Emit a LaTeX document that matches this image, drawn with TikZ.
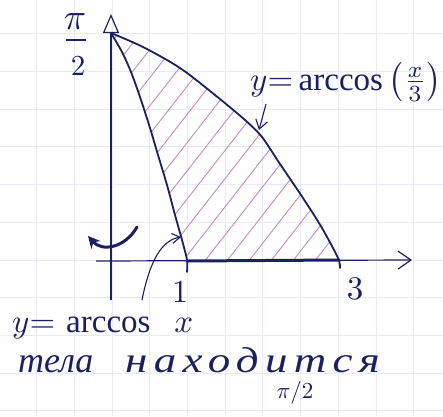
\documentclass[tikz,border=0pt]{standalone}
\usepackage{fontspec}
\setmainfont{Liberation Serif}
\usetikzlibrary{arrows.meta}
\definecolor{ink}{HTML}{1B2160}
\definecolor{hatchc}{HTML}{C98BC0}
\definecolor{gridc}{HTML}{E8EAF5}
\tikzset{
  gridline/.style={gridc, line width=1pt},
  inkline/.style={ink, line width=1.8pt, line cap=round, line join=round},
  axisline/.style={ink, line width=1.2pt},
  hatchline/.style={hatchc, line width=0.9pt},
  inktext/.style={ink, inner sep=0pt},
}
\begin{document}
\begin{tikzpicture}[x=1pt,y=-1pt]
\useasboundingbox (0,0) rectangle (443,416);
\fill[white] (0,0) rectangle (443,416);
% graph paper
\foreach \k in {0,...,11} \draw[gridline] ({-1+37.7*\k},0) -- ++(0,416);
\foreach \k in {0,...,11} \draw[gridline] (0,{-3.9+37.7*\k}) -- ++(443,0);
% hatching
\begin{scope}
\clip plot[smooth] coordinates {(111,33) (122,52) (131,72) (140,97) (150,128) (158,155) (167,185) (175,215) (182,240) (187,260)}
 -- (340,260) -- plot[smooth] coordinates {(338,258) (322,228) (303,198) (280,164) (262,137) (245,120) (215,95) (180,68) (143,47) (111,33)} -- cycle;
\foreach \i in {0,...,18} \draw[hatchline] ({-60+22*\i},262) -- ++(220,-282);
\end{scope}
% axes
\draw[axisline, -{Triangle[open, length=19pt, width=16pt]}] (111,300) -- (111,14);
\draw[axisline, -{Straight Barb[length=13pt, width=18pt]}] (96,261) -- (412,260);
\draw[ink, line width=3pt] (187,261) -- (340,260);
% curves
\draw[inkline] plot[smooth] coordinates {(111,33) (122,52) (131,72) (140,97) (150,128) (158,155) (167,185) (175,215) (182,240) (187,260) (187,272)};
\draw[inkline] plot[smooth] coordinates {(111,33) (143,47) (180,68) (215,95) (245,120) (262,137) (280,164) (303,198) (322,228) (338,258) (340,268)};
% labels
\node[inktext] (pinum) at (75,22) {\scalebox{3.7}{$\pi$}};
\draw[ink, line width=1.3pt] (66,40) -- (86,40);
\node[inktext] (piden) at (78,66) {\scalebox{2.9}{$2$}};
\node[inktext] (one) at (180,292) {\scalebox{3.2}{$1$}};
\node[inktext] (three) at (355,289) {\scalebox{3.3}{$3$}};
\node[inktext, anchor=base west] (labB) at (250,90) {\scalebox{3.3}{$y{=}\arccos\left(\frac{x}{3}\right)$}};
\node[inktext, anchor=base west] (labA) at (12,332) {\scalebox{3.3}{$y{=}\,\arccos\;\;x$}};
\node[inktext, anchor=base west, font=\itshape\fontsize{36}{36}\selectfont] (tela) at (18,372) {тела};
\node[inktext, anchor=base west, font=\itshape\fontsize{36}{36}\selectfont\addfontfeature{LetterSpace=14}] (nah) at (125,372) {\scalebox{1.25}[1]{находится}};
\node[inktext] (pihalf) at (295,393) {\scalebox{2.3}{$\pi/2$}};
% label arrows
\coordinate (tipB) at (259,130);
\coordinate (startB) at (266,104);
\draw[ink, line width=1.1pt, -{Straight Barb[length=9pt, width=12pt]}] (startB) -- (tipB);
\coordinate (startA) at (142,300);
\coordinate (tipA) at (181,237);
\draw[ink, line width=1.1pt, -{Straight Barb[length=8pt, width=10pt]}] (startA) .. controls (150,260) and (162,240) .. (tipA);
% rotation arrow
\coordinate (rotS) at (137,227);
\coordinate (rotE) at (88,236);
\draw[ink, line width=3pt, line cap=round, -{Stealth[length=12pt, width=12pt]}] (rotS) .. controls (125,248) and (102,252) .. (rotE);
\end{tikzpicture}
\end{document}
